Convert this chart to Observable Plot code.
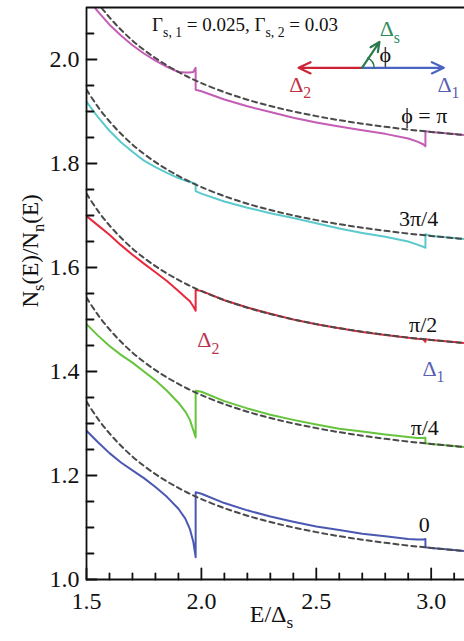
<!DOCTYPE html>
<html><head><meta charset="utf-8">
<script src="https://cdn.jsdelivr.net/npm/d3@7"></script>
<script src="https://cdn.jsdelivr.net/npm/@observablehq/plot@0.6"></script>
<style>
body{margin:0;background:#fff}
#chart svg, #chart svg text, #chart svg tspan{font-family:"Liberation Serif","DejaVu Serif",serif !important;}
</style>
</head><body><div id="chart"></div>
<script>
// ---- data ----
const energy = [1.5,1.55,1.6,1.65,1.7,1.75,1.8,1.85,1.9,1.93,1.95,1.965,1.975,1.975,2.0,2.1,2.2,2.3,2.4,2.5,2.6,2.7,2.8,2.9,2.94,2.965,2.975,2.975,3.0,3.05,3.1,3.145];
const phi0    = [1.286,1.264,1.243,1.225,1.210,1.195,1.178,1.159,1.136,1.117,1.097,1.072,1.043,1.168,1.165,1.147,1.133,1.121,1.111,1.102,1.095,1.088,1.083,1.078,1.077,1.077,1.078,1.062,1.0605,1.0585,1.0565,1.0547];
const phiPi4  = [1.491,1.469,1.449,1.432,1.417,1.400,1.383,1.363,1.340,1.323,1.307,1.287,1.273,1.363,1.361,1.343,1.329,1.317,1.307,1.298,1.290,1.2845,1.279,1.274,1.272,1.272,1.2725,1.262,1.2607,1.2585,1.2565,1.2547];
const phiPi2  = [1.699,1.681,1.663,1.643,1.6245,1.6075,1.591,1.574,1.555,1.543,1.535,1.525,1.517,1.557,1.555,1.537,1.523,1.511,1.500,1.491,1.483,1.476,1.470,1.465,1.463,1.462,1.457,1.462,1.4607,1.4585,1.4565,1.4547];
const phi3Pi4 = [1.919,1.889,1.863,1.841,1.8225,1.8055,1.793,1.782,1.772,1.767,1.765,1.762,1.761,1.747,1.742,1.727,1.715,1.7045,1.695,1.685,1.675,1.6665,1.659,1.650,1.644,1.640,1.638,1.664,1.6607,1.6585,1.6565,1.6547];
const phiPi   = [2.120,2.092,2.067,2.046,2.0275,2.0115,1.998,1.986,1.976,1.975,1.975,1.976,1.984,1.942,1.939,1.923,1.910,1.899,1.888,1.879,1.871,1.864,1.857,1.848,1.842,1.837,1.833,1.862,1.8607,1.8585,1.8565,1.8547];

const dashedE    = [1.5,1.55,1.6,1.65,1.7,1.75,1.8,1.85,1.9,1.95,2.0,2.1,2.2,2.3,2.4,2.5,2.6,2.7,2.8,2.9,3.0,3.1,3.145];
const dashedBase = [1.342,1.3088,1.281,1.2572,1.2365,1.2185,1.2027,1.1886,1.1761,1.1648,1.1547,1.1372,1.1227,1.1105,1.1001,1.0911,1.0833,1.0765,1.0706,1.0653,1.0607,1.0565,1.0547];
const curveOffsets = [0, 0.2, 0.4, 0.6, 0.8];

const seriesNames  = ["0", "π/4", "π/2", "3π/4", "π"];
const seriesValues = [phi0, phiPi4, phiPi2, phi3Pi4, phiPi];
const seriesColors = ["#4b58b2", "#66c43c", "#e8293b", "#5ccacc", "#c45db6"];

const yMajor = [1.0,1.2,1.4,1.6,1.8,2.0];
const yMinor = [1.05,1.1,1.15,1.25,1.3,1.35,1.45,1.5,1.55,1.65,1.7,1.75,1.85,1.9,1.95,2.05];
const xMajor = [1.5,2.0,2.5,3.0];
const xMinor = [1.6,1.7,1.8,1.9,2.1,2.2,2.3,2.4,2.6,2.7,2.8,2.9,3.1];

const curveTags = [
  {t: "ϕ = π", E: 2.97, N: 1.892},
  {t: "3π/4", E: 2.945, N: 1.694},
  {t: "π/2",  E: 2.965, N: 1.49},
  {t: "π/4",  E: 2.972, N: 1.292},
  {t: "0",    E: 2.97,  N: 1.104}
];
const gapTags = [
  {t: "Δ_2", E: 2.03, N: 1.46,  c: "#b8344f"},
  {t: "Δ_1", E: 3.01, N: 1.405, c: "#5a5fb4"},
  {t: "Δ_2", E: 2.43, N: 1.952, c: "#c0303f"},
  {t: "Δ_1", E: 3.075, N: 1.952, c: "#5a5fb4"},
  {t: "Δ_s", E: 2.82, N: 2.058, c: "#2e8c5c"},
  {t: "ϕ",   E: 2.80, N: 2.008, c: "#111"}
];
const gammaNote = [{t: "Γ_{s, 1} = 0.025, Γ_{s, 2} = 0.03", E: 2.19, N: 2.066}];
const vectors = [
  {x1: 2.699, y1: 1.984, x2: 2.423, y2: 1.984, c: "#cc2436"},
  {x1: 2.699, y1: 1.984, x2: 3.055, y2: 1.984, c: "#4a64c2"},
  {x1: 2.699, y1: 1.984, x2: 2.775, y2: 2.034, c: "#2a7a4e"}
];
const angleArc = [{x1: 2.752, y1: 1.984, x2: 2.724, y2: 2.003}];

const SERIF = '"Liberation Serif","DejaVu Serif",serif';

// ---- tables ----
const solidRows = seriesValues.map(vals => energy.map((E, i) => ({E, N: vals[i]})));
const dashedRows = curveOffsets.flatMap((o, k) => dashedE.map((E, i) => ({E, N: dashedBase[i] + o, k})));

const tickShape = {draw(context, l) { context.moveTo(0, 0); context.lineTo(0, -l); }};

const marks = [];
solidRows.forEach((rows, k) => {
  marks.push(Plot.line(rows, {x: "E", y: "N", stroke: seriesColors[k], strokeWidth: 2, clip: true}));
});
marks.push(Plot.line(dashedRows, {x: "E", y: "N", z: "k", stroke: "#4a4a4a", strokeWidth: 2, strokeDasharray: "5,4", curve: "catmull-rom", clip: true}));

// axes: labels only
marks.push(Plot.axisY({ticks: yMajor, tickSize: 0, tickPadding: 7, tickFormat: d3.format(".1f"), fontSize: 24, label: null}));
marks.push(Plot.axisX({ticks: xMajor, tickSize: 0, tickPadding: 12, tickFormat: d3.format(".1f"), fontSize: 24, label: null}));
// inward ticks
marks.push(Plot.vector(yMajor, {x: 1.5, y: d => d, length: 10, rotate: 90, anchor: "start", shape: tickShape, stroke: "#111", strokeWidth: 1.8}));
marks.push(Plot.vector(yMinor, {x: 1.5, y: d => d, length: 7, rotate: 90, anchor: "start", shape: tickShape, stroke: "#111", strokeWidth: 1.8}));
marks.push(Plot.vector(xMajor, {x: d => d, y: 1.0, length: 11, rotate: 0, anchor: "start", shape: tickShape, stroke: "#111", strokeWidth: 1.8}));
marks.push(Plot.vector(xMinor, {x: d => d, y: 1.0, length: 6, rotate: 0, anchor: "start", shape: tickShape, stroke: "#111", strokeWidth: 1.8}));
// frame
marks.push(Plot.ruleX([1.5], {stroke: "#111", strokeWidth: 1.8}));
marks.push(Plot.ruleY([1.0], {stroke: "#111", strokeWidth: 1.8}));
marks.push(Plot.ruleY([2.1], {stroke: "#111", strokeWidth: 1.8}));

// axis titles
marks.push(Plot.text(["N_s(E)/N_n(E)"], {frameAnchor: "left", rotate: -90, dx: -56, dy: 14, fontSize: 23, fill: "#111"}));
marks.push(Plot.text(["E/Δ_s"], {frameAnchor: "bottom", dx: -4, dy: 42, fontSize: 24, fill: "#111"}));

// annotations
marks.push(Plot.text(curveTags, {x: "E", y: "N", text: "t", fontSize: 22, fill: "#111"}));
gapTags.forEach(g => marks.push(Plot.text([g], {x: "E", y: "N", text: "t", fontSize: 22, fill: g.c})));
marks.push(Plot.text(gammaNote, {x: "E", y: "N", text: "t", fontSize: 19, fill: "#111"}));
vectors.forEach(v => marks.push(Plot.arrow([v], {x1: "x1", y1: "y1", x2: "x2", y2: "y2", stroke: v.c, strokeWidth: 2.2, headLength: 9, headAngle: 50})));
marks.push(Plot.arrow(angleArc, {x1: "x1", y1: "y1", x2: "x2", y2: "y2", stroke: "#2a7a4e", strokeWidth: 1.5, headLength: 0, bend: -30}));

const chart = Plot.plot({
  width: 464, height: 641,
  marginLeft: 86, marginRight: 0, marginTop: 7, marginBottom: 62,
  x: {domain: [1.5, 3.145]},
  y: {domain: [1.0, 2.1]},
  style: {background: "white", color: "#111", fontSize: "20px"},
  marks
});
chart.setAttribute("font-family", SERIF);
chart.style.fontFamily = SERIF;
document.getElementById("chart").appendChild(chart);
chart.querySelectorAll("g, text").forEach(n => { if (n.hasAttribute("font-family")) n.setAttribute("font-family", SERIF); });
chart.querySelectorAll("text").forEach(n => n.style.fontFamily = SERIF);

// subscripts: "_x" or "_{...}"
function subify(root) {
  root.querySelectorAll("text").forEach(node => {
    const t = node.textContent;
    if (!t.includes("_")) return;
    const fs = parseFloat(getComputedStyle(node).fontSize) || 20;
    const shift = fs * 0.28;
    node.textContent = "";
    let down = false;
    const add = (s, sub) => {
      const ts = document.createElementNS("http://www.w3.org/2000/svg", "tspan");
      ts.textContent = s;
      if (sub) {
        ts.setAttribute("font-size", (fs * 0.72).toFixed(1));
        if (!down) { ts.setAttribute("dy", shift.toFixed(1)); down = true; }
      } else if (down) { ts.setAttribute("dy", (-shift).toFixed(1)); down = false; }
      node.appendChild(ts);
    };
    const re = /_(\{[^}]*\}|.)/g;
    let last = 0, m;
    while ((m = re.exec(t))) {
      if (m.index > last) add(t.slice(last, m.index), false);
      let s = m[1]; if (s.startsWith("{")) s = s.slice(1, -1);
      add(s, true);
      last = re.lastIndex;
    }
    if (last < t.length) add(t.slice(last), false);
  });
}
subify(chart);
</script>
</body></html>
